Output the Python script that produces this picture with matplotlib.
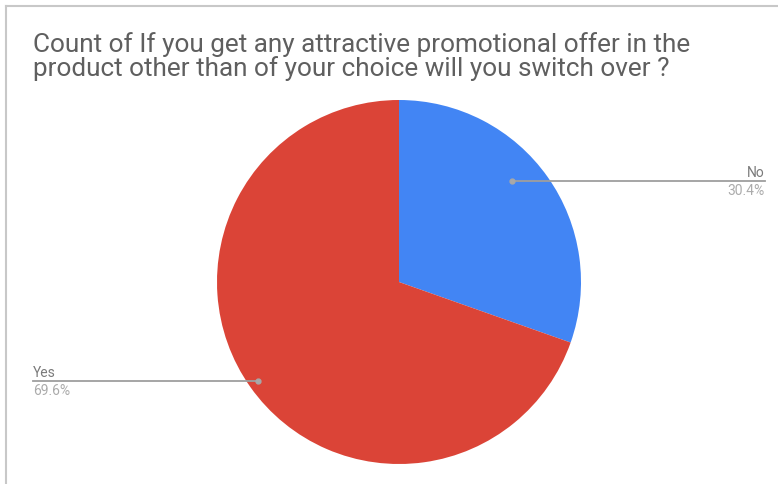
import matplotlib.pyplot as plt
from matplotlib.lines import Line2D

labels = ["No", "Yes"]
shares = [30.4, 69.6]
colors = ["#4285f4", "#db4437"]
title = ("Count of If you get any attractive promotional offer in the\n"
         "product other than of your choice will you switch over ?")

W, H = 778, 485
fig = plt.figure(figsize=(W / 100, H / 100), dpi=100)
fig.patch.set_facecolor("white")

# pie area: centre (399, 283), radius 182 px
cx, cy, r = 399, 283, 182
ax = fig.add_axes([(cx - r) / W, 1 - (cy + r) / H, 2 * r / W, 2 * r / H])
wedges, _ = ax.pie(shares, colors=colors, startangle=90, counterclock=False,
                   wedgeprops=dict(linewidth=0))
ax.set_xlim(-1, 1)
ax.set_ylim(-1, 1)
ax.set_aspect("auto")

# card border on top and left
fig.add_artist(Line2D([6 / W, 6 / W], [0, 1 - 7 / H], color="#c8c8c8", lw=1.5))
fig.add_artist(Line2D([6 / W, 1], [1 - 7 / H, 1 - 7 / H], color="#c8c8c8", lw=1.5))

fig.text(33 / W, 1 - 32 / H, title, ha="left", va="top", fontsize=18.8,
         family="Roboto", color="#5f5f5f", linespacing=0.98)


def px(x, y):
    return x / W, 1 - y / H


# leader lines with label and percentage
leaders = [
    (labels[0], shares[0], (512, 182), 765, "right"),
    (labels[1], shares[1], (258, 382), 33, "left"),
]
for name, pct, (dx, dy), end, align in leaders:
    x0, y0 = px(dx, dy)
    x1, _ = px(end, dy)
    fig.add_artist(Line2D([x0, x1], [y0, y0], color="#9e9e9e", lw=1.3))
    fig.add_artist(Line2D([x0], [y0], marker="o", ms=3.5, color="#a8a8a8", lw=0))
    fig.text(x1, y0 + 2 / H, name, ha=align, va="bottom", fontsize=10,
             family="Roboto", color="#7a7a7a")
    fig.text(x1, y0 - 2 / H, f"{pct}%", ha=align, va="top", fontsize=10,
             family="Roboto", color="#ababab")

fig.savefig("out.png", dpi=100)
